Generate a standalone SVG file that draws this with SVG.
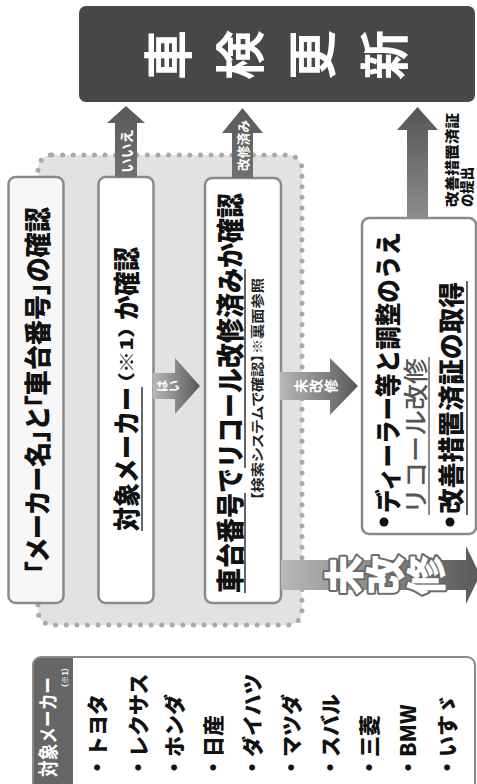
<svg xmlns="http://www.w3.org/2000/svg" width="477" height="784" viewBox="0 0 477 784">
<style>
text { font-family: "Noto Sans CJK JP", "Noto Sans CJK SC", sans-serif; dominant-baseline: central; }
.b { font-weight: 900; fill: #111; }
.w { font-weight: 700; fill: #fff; }
.p { font-feature-settings: "palt"; }
.box { fill: #fff; stroke: #8a8a8a; stroke-width: 2.5; }
.ul { stroke: #333; stroke-width: 1.5; }
.c { text-anchor: middle; }
</style>
<defs>
<linearGradient id="gh" x1="0" y1="0" x2="1" y2="0"><stop offset="0" stop-color="#b8b8b8"/><stop offset="1" stop-color="#585858"/></linearGradient>
<linearGradient id="gv" x1="0" y1="1" x2="0" y2="0"><stop offset="0" stop-color="#8c8c8c"/><stop offset="1" stop-color="#555"/></linearGradient>
<linearGradient id="gva" x1="0" y1="1" x2="0" y2="0"><stop offset="0" stop-color="#707070"/><stop offset="1" stop-color="#5a5a5a"/></linearGradient>
</defs>

<g id="region">
<rect x="38" y="155" width="264" height="470" rx="14" fill="#e2e2e2" stroke="#a9a9a9" stroke-width="5" stroke-dasharray="0 10.6" stroke-linecap="round"/>
</g>

<g id="top-box">
<rect x="79" y="6" width="396" height="96" rx="7" fill="#484848"/>
<text class="w c" font-size="50" font-weight="900" x="165" y="55" transform="rotate(-90 165 55)">車</text>
<text class="w c" font-size="50" font-weight="900" x="237" y="55" transform="rotate(-90 237 55)">検</text>
<text class="w c" font-size="50" font-weight="900" x="309" y="55" transform="rotate(-90 309 55)">更</text>
<text class="w c" font-size="50" font-weight="900" x="381" y="55" transform="rotate(-90 381 55)">新</text>
</g>

<g id="box1">
<rect x="8.5" y="177" width="55" height="426" rx="7" fill="#f7f7f7" stroke="#8a8a8a" stroke-width="2.5"/>
<text class="b p" font-size="27" transform="translate(36,574) rotate(-90)" textLength="367" lengthAdjust="spacingAndGlyphs">「メーカー名」と「車台番号」の確認</text>
</g>

<g id="box2">
<rect class="box" x="98.5" y="177" width="55" height="426" rx="7"/>
<text class="b" font-size="27" transform="translate(125,531) rotate(-90)" textLength="144" lengthAdjust="spacingAndGlyphs">対象メーカー</text>
<text class="b p" font-size="17" transform="translate(125,384) rotate(-90)" textLength="58" lengthAdjust="spacingAndGlyphs">（※1）</text>
<text class="b" font-size="27" transform="translate(125,320) rotate(-90)" textLength="73" lengthAdjust="spacingAndGlyphs">か確認</text>
<line class="ul" x1="142" y1="531" x2="142" y2="387"/>
</g>

<g id="box3">
<rect class="box" x="205" y="178" width="76" height="425" rx="7"/>
<text class="b" font-size="28" transform="translate(229,593) rotate(-90)" textLength="400" lengthAdjust="spacingAndGlyphs">車台番号でリコール改修済みか確認</text>
<text class="p" font-size="13" font-weight="700" fill="#222" transform="translate(256,500) rotate(-90)" textLength="222" lengthAdjust="spacingAndGlyphs">【検索システムで確認】※裏面参照</text>
<line class="ul" x1="245" y1="593" x2="245" y2="493"/>
<line class="ul" x1="245" y1="468" x2="245" y2="269"/>
</g>

<g id="box4">
<rect class="box" x="362" y="218" width="114" height="316" rx="7"/>
<circle cx="384" cy="522" r="4.5" fill="#111"/>
<text class="b" font-size="26" transform="translate(386,513) rotate(-90)" textLength="281" lengthAdjust="spacingAndGlyphs">ディーラー等と調整のうえ</text>
<text font-size="25" font-weight="500" fill="#555" transform="translate(414,514) rotate(-90)" textLength="156" lengthAdjust="spacingAndGlyphs">リコール改修</text>
<line x1="429" y1="515" x2="429" y2="357" stroke="#666" stroke-width="1.5"/>
<circle cx="450" cy="522" r="4.5" fill="#111"/>
<text class="b" font-size="26" fill="#222" transform="translate(449,514) rotate(-90)" textLength="232" lengthAdjust="spacingAndGlyphs">改善措置済証の取得</text>
<line class="ul" x1="467" y1="515" x2="467" y2="281"/>
</g>

<g id="connectors">
<polygon points="115,177 115,123 107,123 126,106 145,123 137,123 137,177" fill="url(#gva)"/>
<text class="w" font-size="14" transform="translate(126,173) rotate(-90)" textLength="44" lengthAdjust="spacingAndGlyphs">いいえ</text>

<polygon points="232,178 232,133 222,133 242.5,108 263,133 253,133 253,178" fill="url(#gva)"/>
<text class="w" font-size="13" transform="translate(242.5,171) rotate(-90)" textLength="51" lengthAdjust="spacingAndGlyphs">改修済み</text>

<polygon points="407,218 407,130 397,130 417.5,107 438,130 428,130 428,218" fill="url(#gv)"/>

<polygon points="153,373 175,373 175,358 200,386 175,414 175,399 153,399" fill="url(#gh)"/>
<text class="w c" font-size="12" x="161" y="386" transform="rotate(-90 161 386)">は</text>
<text class="w c" font-size="12" x="173" y="386" transform="rotate(-90 173 386)">い</text>

<polygon points="280,372 330,372 330,358 358,386 330,415 330,400 280,400" fill="url(#gh)"/>
<text class="w c" font-size="14" x="300" y="386" transform="rotate(-90 300 386)">未</text>
<text class="w c" font-size="14" x="315" y="386" transform="rotate(-90 315 386)">改</text>
<text class="w c" font-size="14" x="330" y="386" transform="rotate(-90 330 386)">修</text>

<polygon points="281,560 466,560 466,546 480,575 466,604 466,590 281,590" fill="url(#gh)"/>
<g font-size="40" font-weight="900" fill="#fff" stroke="#6a6a6a" stroke-width="4" paint-order="stroke" stroke-linejoin="round">
<text class="c" x="342" y="575" transform="rotate(-90 342 575)">未</text>
<text class="c" x="383" y="575" transform="rotate(-90 383 575)">改</text>
<text class="c" x="424" y="575" transform="rotate(-90 424 575)">修</text>
</g>

<text class="b" font-size="14" transform="translate(451,207) rotate(-90)" textLength="94" lengthAdjust="spacingAndGlyphs">改善措置済証</text>
<text class="b" font-size="14" transform="translate(466,207) rotate(-90)" textLength="40" lengthAdjust="spacingAndGlyphs">の提出</text>
</g>

<g id="maker-list">
<rect x="33" y="657" width="442" height="140" rx="8" fill="#fff"/>
<path d="M73 657 H41 Q33 657 33 665 V800 H73 Z" fill="#666"/>
<rect x="33" y="657" width="442" height="140" rx="8" fill="none" stroke="#8a8a8a" stroke-width="2"/>
<text class="w" font-size="20" transform="translate(47,777) rotate(-90)" textLength="100" lengthAdjust="spacingAndGlyphs">対象メーカー</text>
<text class="w p" font-size="8" font-weight="400" transform="translate(64,688) rotate(-90)" textLength="21" lengthAdjust="spacingAndGlyphs">（※1）</text>
<g class="b" font-size="21">
<text transform="translate(96,778) rotate(-90)">・トヨタ</text>
<text transform="translate(137,778) rotate(-90)">・レクサス</text>
<text transform="translate(173,778) rotate(-90)">・ホンダ</text>
<text transform="translate(212,778) rotate(-90)">・日産</text>
<text transform="translate(251,778) rotate(-90)">・ダイハツ</text>
<text transform="translate(290,778) rotate(-90)">・マツダ</text>
<text transform="translate(329,778) rotate(-90)">・スバル</text>
<text transform="translate(368,778) rotate(-90)">・三菱</text>
<text transform="translate(407,778) rotate(-90)">・BMW</text>
<text transform="translate(446,778) rotate(-90)">・いすゞ</text>
</g>
</g>
</svg>
